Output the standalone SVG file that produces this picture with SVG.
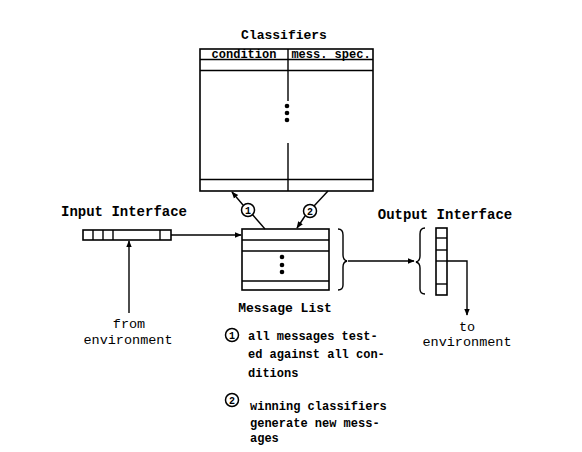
<svg xmlns="http://www.w3.org/2000/svg" width="582" height="452" viewBox="0 0 582 452">
<defs>
<marker id="ah" viewBox="0 0 10 10" refX="9" refY="5" markerWidth="7" markerHeight="7" orient="auto" markerUnits="userSpaceOnUse"><path d="M0,1 L10,5 L0,9 z" fill="#000"/></marker>
<style>
.l{fill:none;stroke:#000;stroke-width:1.4}
.b{fill:#fff;stroke:#000;stroke-width:1.6}
.t{font-family:"Liberation Mono","DejaVu Sans Mono",monospace;font-weight:bold;fill:#000}
.n{font-family:"Liberation Mono","DejaVu Sans Mono",monospace;fill:#000}
.c{fill:#fff;stroke:#000;stroke-width:1.5}
.d{fill:#000}
</style>
</defs>
<rect width="582" height="452" fill="#fff"/>
<g id="classifiers">
<text class="t" x="284" y="39" font-size="13" text-anchor="middle">Classifiers</text>
<rect class="b" x="200" y="49" width="173" height="142"/>
<line class="l" x1="200" y1="59.5" x2="373" y2="59.5"/>
<line class="l" x1="200" y1="70.5" x2="373" y2="70.5"/>
<line class="l" x1="200" y1="179.5" x2="373" y2="179.5"/>
<line class="l" x1="288" y1="49" x2="288" y2="101"/>
<line class="l" x1="288" y1="143" x2="288" y2="191"/>
<circle class="d" cx="287" cy="106" r="2.3"/>
<circle class="d" cx="287" cy="113" r="2.3"/>
<circle class="d" cx="287" cy="120" r="2.3"/>
<text class="n" x="244" y="58" font-size="12" text-anchor="middle" font-weight="bold">condition</text>
<text class="n" x="331" y="58" font-size="12" text-anchor="middle" font-weight="bold">mess. spec.</text>
</g>
<g id="input-interface">
<text class="t" x="124" y="216" font-size="14" text-anchor="middle">Input Interface</text>
<rect class="b" x="83" y="230" width="88" height="10"/>
<line class="l" x1="93" y1="230" x2="93" y2="240"/>
<line class="l" x1="103" y1="230" x2="103" y2="240"/>
<line class="l" x1="113" y1="230" x2="113" y2="240"/>
<line class="l" x1="160" y1="230" x2="160" y2="240"/>
<text class="n" x="129" y="328" font-size="13.5" text-anchor="middle">from</text>
<text class="n" x="128" y="344" font-size="13.5" text-anchor="middle">environment</text>
</g>
<g id="message-list">
<rect class="b" x="242" y="229" width="87" height="61"/>
<line class="l" x1="242" y1="240" x2="329" y2="240"/>
<line class="l" x1="242" y1="251" x2="329" y2="251"/>
<line class="l" x1="242" y1="281" x2="329" y2="281"/>
<circle class="d" cx="282" cy="257" r="2.3"/>
<circle class="d" cx="282" cy="265" r="2.3"/>
<circle class="d" cx="282" cy="272" r="2.3"/>
<path class="l" d="M338,229 Q343,229 343,235 L343,255 Q343,260 347,261 Q343,262 343,267 L343,285 Q343,290 338,290"/>
<text class="t" x="285" y="312" font-size="13" text-anchor="middle">Message List</text>
</g>
<g id="output-interface">
<text class="t" x="445" y="219" font-size="14" text-anchor="middle">Output Interface</text>
<path class="l" d="M425,228 Q420,228 420,234 L420,256 Q420,261 416,262 Q420,263 420,268 L420,289 Q420,294 425,294"/>
<rect class="b" x="436" y="228" width="11" height="67"/>
<line class="l" x1="436" y1="238" x2="447" y2="238"/>
<line class="l" x1="436" y1="250" x2="447" y2="250"/>
<line class="l" x1="436" y1="261" x2="447" y2="261"/>
<line class="l" x1="436" y1="284" x2="447" y2="284"/>
<text class="n" x="467" y="331" font-size="13.5" text-anchor="middle">to</text>
<text class="n" x="467" y="346" font-size="13.5" text-anchor="middle">environment</text>
</g>
<g id="notes">
<circle class="c" cx="232" cy="335" r="6.5"/>
<text class="n" x="232" y="339" font-size="10" text-anchor="middle" font-weight="bold">1</text>
<text class="t" x="248" y="340" font-size="12">all messages test-</text>
<text class="t" x="248" y="358" font-size="12">ed against all con-</text>
<text class="t" x="248" y="377" font-size="12">ditions</text>
<circle class="c" cx="232" cy="400" r="6.5"/>
<text class="n" x="232" y="404" font-size="10" text-anchor="middle" font-weight="bold">2</text>
<text class="t" x="250" y="410" font-size="12">winning classifiers</text>
<text class="t" x="250" y="427" font-size="12">generate new mess-</text>
<text class="t" x="250" y="442" font-size="12">ages</text>
</g>
<g id="connectors">
<line class="l" x1="171" y1="235" x2="241" y2="235" marker-end="url(#ah)"/>
<line class="l" x1="129" y1="313" x2="129" y2="241" marker-end="url(#ah)"/>
<line class="l" x1="348" y1="261" x2="414" y2="261" marker-end="url(#ah)"/>
<polyline class="l" points="447,261 467,261 467,315" marker-end="url(#ah)"/>
<line class="l" x1="265" y1="229" x2="252" y2="214" stroke-width="2"/>
<line class="l" x1="243" y1="205" x2="232" y2="192" marker-end="url(#ah)" stroke-width="2"/>
<circle class="c" cx="248" cy="210" r="6.5"/>
<text class="n" x="248" y="214" font-size="10" text-anchor="middle" font-weight="bold">1</text>
<line class="l" x1="328" y1="191" x2="314" y2="206" stroke-width="2"/>
<line class="l" x1="305" y1="216" x2="297" y2="228" marker-end="url(#ah)" stroke-width="2"/>
<circle class="c" cx="310" cy="211" r="6.5"/>
<text class="n" x="310" y="215" font-size="10" text-anchor="middle" font-weight="bold">2</text>
</g>
</svg>
